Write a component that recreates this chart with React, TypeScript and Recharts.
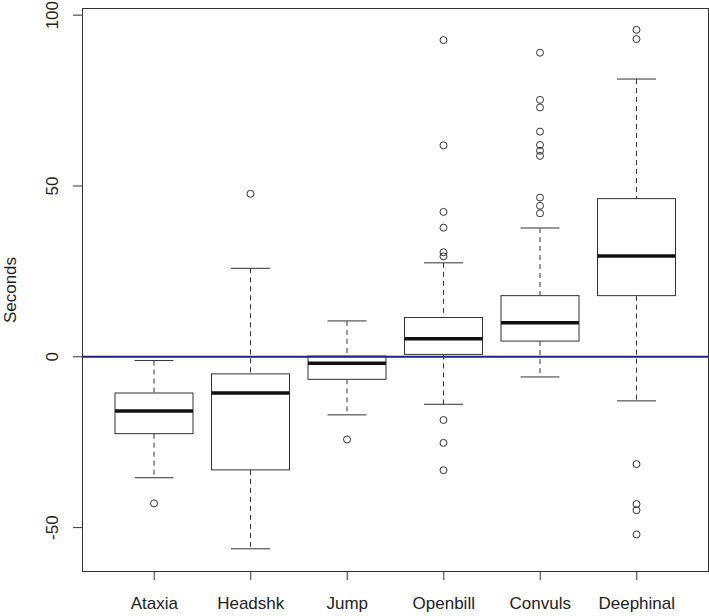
import React from "react";
import { ComposedChart, Bar, XAxis, YAxis, ReferenceLine, Label } from "recharts";

const categories = ["Ataxia", "Headshk", "Jump", "Openbill", "Convuls", "Deephinal"];
const whiskerLow = [-35.4, -56.2, -17.0, -13.9, -5.9, -12.9];
const q1 = [-22.5, -33.1, -6.6, 0.7, 4.6, 17.9];
const median = [-15.9, -10.6, -1.9, 5.3, 10.0, 29.5];
const q3 = [-10.6, -5.0, 0.2, 11.5, 17.9, 46.3];
const whiskerHigh = [-1.1, 25.9, 10.5, 27.5, 37.7, 81.3];
const outliers = [
  [-42.9],
  [47.7],
  [-24.2],
  [92.7, 61.9, 42.4, 37.8, 30.6, 29.4, -18.5, -25.2, -33.2],
  [89.0, 75.2, 73.0, 65.9, 62.0, 60.3, 58.8, 46.6, 44.2, 42.0],
  [95.7, 93.0, -31.4, -43.1, -44.9, -52.0],
];
const yTicks = [-50, 0, 50, 100];

const FONT = '"Liberation Sans", Arial, Helvetica, sans-serif';
const INK = "#222";
const LINE = "#333";

const rows = categories.map((name, i) => {
  const lo = Math.min(whiskerLow[i], ...outliers[i]);
  const hi = Math.max(whiskerHigh[i], ...outliers[i]);
  return {
    name,
    lo,
    hi,
    span: [lo, hi],
    wLow: whiskerLow[i],
    q1: q1[i],
    median: median[i],
    q3: q3[i],
    wHigh: whiskerHigh[i],
    out: outliers[i],
  };
});

// one bar per group spans the full extent; the shape maps the stats onto it
function BoxShape(props: any) {
  const { x, y, width, height, payload } = props;
  const { lo, hi } = payload;
  const py = (v: number) => y + (height * (hi - v)) / (hi - lo);
  const cx = x + width / 2;
  const cap = width / 4;
  return (
    <g>
      <line x1={cx} x2={cx} y1={py(payload.wHigh)} y2={py(payload.q3)} stroke={LINE} strokeDasharray="5 4" />
      <line x1={cx} x2={cx} y1={py(payload.q1)} y2={py(payload.wLow)} stroke={LINE} strokeDasharray="5 4" />
      <line x1={cx - cap} x2={cx + cap} y1={py(payload.wHigh)} y2={py(payload.wHigh)} stroke={LINE} />
      <line x1={cx - cap} x2={cx + cap} y1={py(payload.wLow)} y2={py(payload.wLow)} stroke={LINE} />
      <rect
        x={x}
        y={py(payload.q3)}
        width={width}
        height={py(payload.q1) - py(payload.q3)}
        fill="none"
        stroke={LINE}
      />
      <line x1={x} x2={x + width} y1={py(payload.median)} y2={py(payload.median)} stroke="#111" strokeWidth={3.5} />
      {payload.out.map((v: number, k: number) => (
        <circle key={k} cx={cx} cy={py(v)} r={3.5} fill="none" stroke={LINE} />
      ))}
    </g>
  );
}

const YTick = ({ x, y, payload }: any) => (
  <text
    x={x - 13}
    y={y}
    transform={`rotate(-90, ${x - 13}, ${y})`}
    textAnchor="middle"
    fontSize={17}
    fontFamily={FONT}
    fill={INK}
  >
    {payload.value}
  </text>
);

const AxisTitle = ({ viewBox }: any) => {
  const tx = viewBox.x + 16;
  const ty = viewBox.y + viewBox.height / 2;
  return (
    <text x={tx} y={ty} transform={`rotate(-90, ${tx}, ${ty})`} textAnchor="middle" fontSize={17} fontFamily={FONT} fill={INK}>
      Seconds
    </text>
  );
};

export default function App() {
  return (
    <div style={{ position: "absolute", left: 0, top: 0, width: 709, height: 616, background: "#fff" }}>
      <ComposedChart width={709} height={616} data={rows} margin={{ top: 9, right: 1, left: 0, bottom: 0 }}>
        <XAxis
          dataKey="name"
          type="category"
          padding={{ left: 23, right: 23 }}
          height={45}
          tickSize={9}
          tickMargin={17}
          tickLine={{ stroke: LINE }}
          axisLine={false}
          tick={{ fontSize: 17, fill: INK, fontFamily: FONT }}
          interval={0}
        />
        <YAxis
          type="number"
          domain={[-62.7, 101.8]}
          ticks={yTicks}
          allowDataOverflow
          width={83}
          tickSize={10}
          tickLine={{ stroke: LINE }}
          axisLine={false}
          tick={<YTick />}
        >
          <Label content={<AxisTitle />} />
        </YAxis>
        <Bar dataKey="span" barSize={78} shape={<BoxShape />} isAnimationActive={false} />
        <ReferenceLine y={0} stroke="#1f1f87" strokeWidth={2} />
      </ComposedChart>
      {/* plot frame, like R's box() */}
      <div
        style={{
          position: "absolute",
          left: 82,
          top: 8,
          width: 627,
          height: 564,
          boxSizing: "border-box",
          border: `1px solid ${LINE}`,
          pointerEvents: "none",
        }}
      />
    </div>
  );
}
